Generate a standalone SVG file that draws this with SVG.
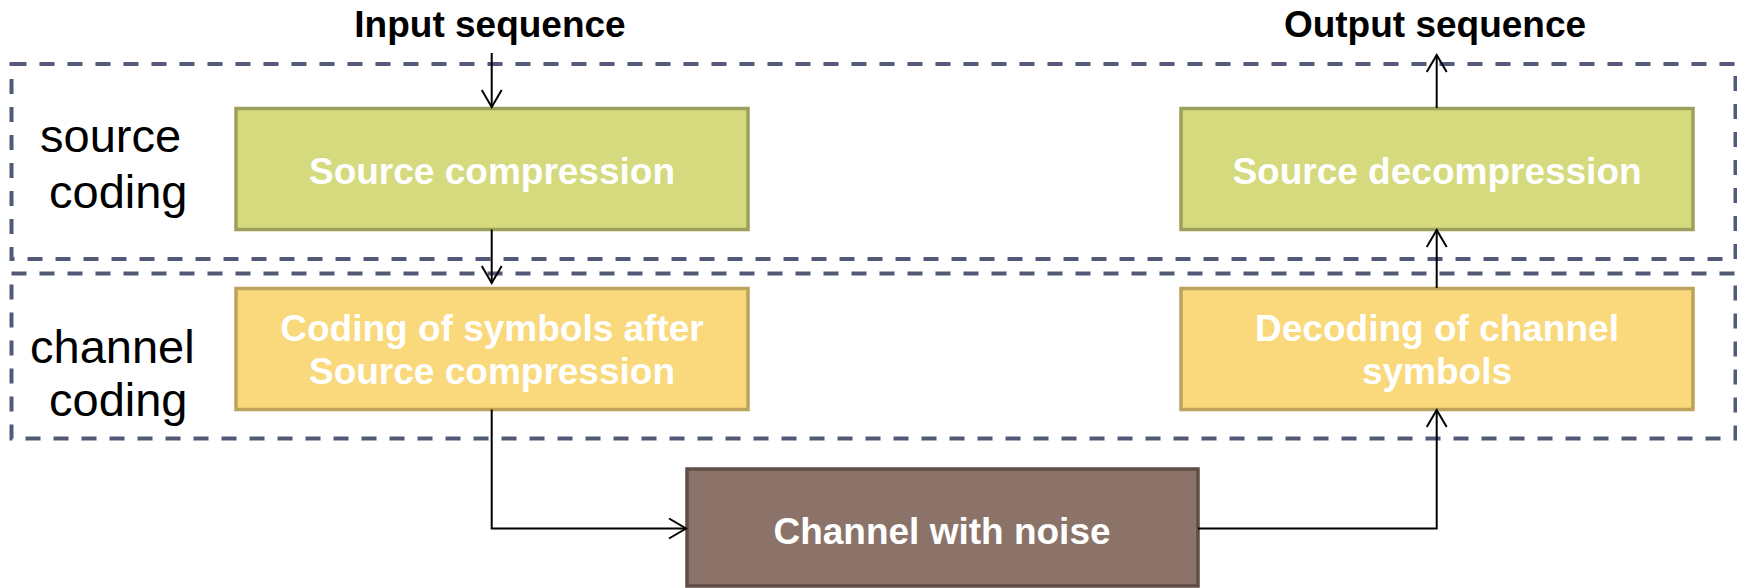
<svg xmlns="http://www.w3.org/2000/svg" width="1737" height="588" viewBox="0 0 1737 588">
<defs>
<style>
.grp{fill:none;stroke:#525a78;stroke-width:4;stroke-dasharray:15 13}
.src{fill:#d4da7d;stroke:#9da05a;stroke-width:3.5}
.chc{fill:#f9d97c;stroke:#bca25a;stroke-width:3.5}
.chn{fill:#8c7369;stroke:#5f4d46;stroke-width:3.5}
.nt{font-family:"Liberation Sans",Arial,sans-serif;font-weight:bold;font-size:37px;fill:#ffffff;text-anchor:middle}
.ht{font-family:"Liberation Sans",Arial,sans-serif;font-weight:bold;font-size:37px;fill:#000000;text-anchor:middle}
.lt{font-family:"Liberation Sans",Arial,sans-serif;font-size:47px;fill:#000000}
.con{fill:none;stroke:#000000;stroke-width:2}
</style>
<marker id="arr" viewBox="0 0 20 22" refX="18" refY="11" markerWidth="20" markerHeight="22" markerUnits="userSpaceOnUse" orient="auto">
<path d="M1,1 L18,11 L1,21" fill="none" stroke="#000000" stroke-width="2"/>
</marker>
</defs>
<g id="group-source">
<rect class="grp" x="11.5" y="64" width="1724" height="195"/>
<text class="lt" x="40" y="152">source</text>
<text class="lt" x="49" y="208">coding</text>
</g>
<g id="group-channel">
<rect class="grp" x="11.5" y="273.5" width="1724" height="165"/>
<text class="lt" x="30" y="363">channel</text>
<text class="lt" x="49" y="416">coding</text>
</g>
<text class="ht" x="490" y="37">Input sequence</text>
<text class="ht" x="1435" y="37">Output sequence</text>
<g id="source-compression">
<rect class="src" x="236" y="108.5" width="512" height="121"/>
<text class="nt" x="492" y="184">Source compression</text>
</g>
<g id="source-decompression">
<rect class="src" x="1181" y="108.5" width="512" height="121"/>
<text class="nt" x="1437" y="184">Source decompression</text>
</g>
<g id="channel-coding">
<rect class="chc" x="236" y="288.5" width="512" height="121"/>
<text class="nt" x="492" y="341">Coding of symbols after</text>
<text class="nt" x="492" y="384">Source compression</text>
</g>
<g id="channel-decoding">
<rect class="chc" x="1181" y="288.5" width="512" height="121"/>
<text class="nt" x="1437" y="341">Decoding of channel</text>
<text class="nt" x="1437" y="384">symbols</text>
</g>
<g id="channel-noise">
<rect class="chn" x="687" y="469" width="511" height="117"/>
<text class="nt" x="942" y="544">Channel with noise</text>
</g>
<g id="connectors">
<path class="con" d="M491.7,53 L491.7,107" marker-end="url(#arr)"/>
<path class="con" d="M491.7,229.5 L491.7,283" marker-end="url(#arr)"/>
<path class="con" d="M491.7,409.5 L491.7,528.5 L686,528.5" marker-end="url(#arr)"/>
<path class="con" d="M1198,528.5 L1436.7,528.5 L1436.7,410" marker-end="url(#arr)"/>
<path class="con" d="M1436.7,288 L1436.7,230" marker-end="url(#arr)"/>
<path class="con" d="M1436.7,108 L1436.7,55" marker-end="url(#arr)"/>
</g>
</svg>
